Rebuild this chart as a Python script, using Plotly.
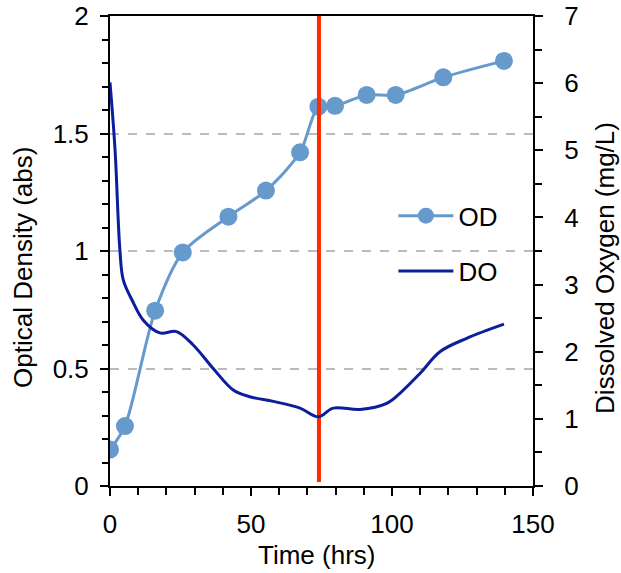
import plotly.graph_objects as go

# OD data (left axis)
od_time = [0, 5.3, 16, 25.8, 42, 55.3, 67.4, 73.9, 79.8, 91, 101.3, 118.2, 139.7]
od_values = [0.155, 0.255, 0.746, 0.994, 1.146, 1.257, 1.42, 1.614, 1.618, 1.664, 1.664, 1.739, 1.809]

# DO data (right axis)
do_time = [0, 1.8, 3.5, 4.7, 7.8, 11.8, 17.7, 23.6, 29.5, 36.6, 43.7, 49.6, 57.9, 67.4, 73.9,
           79.2, 88.7, 98.1, 102.8, 110, 117, 126.5, 139.7]
do_values = [6.01, 5.0, 3.52, 3.07, 2.77, 2.47, 2.28, 2.30, 2.10, 1.75, 1.43, 1.33, 1.26, 1.16, 1.03,
             1.16, 1.14, 1.23, 1.38, 1.68, 2.0, 2.2, 2.41]

marker_time = 74.1

FONT = "Liberation Sans, Arial, sans-serif"
OD_COLOR = "#6699CC"
DO_COLOR = "#0A1E9E"
FS = 26

fig = go.Figure()
fig.add_trace(go.Scatter(
    x=do_time, y=do_values, name="DO", yaxis="y2", mode="lines",
    line=dict(color=DO_COLOR, width=3, shape="spline", smoothing=1),
    legend="legend2",
))
fig.add_trace(go.Scatter(
    x=od_time, y=od_values, name="OD", mode="lines+markers",
    line=dict(color=OD_COLOR, width=3, shape="spline", smoothing=0.8),
    marker=dict(color=OD_COLOR, size=18),
    legend="legend",
))
fig.add_trace(go.Scatter(
    x=[marker_time, marker_time], y=[0.017, 2], mode="lines", showlegend=False,
    line=dict(color="#FF2A00", width=4), hoverinfo="skip",
))

axis_common = dict(
    showline=True, linecolor="black", linewidth=2,
    ticks="outside", ticklen=8, tickwidth=2, tickcolor="black",
    tickfont=dict(family=FONT, size=FS, color="black"),
    zeroline=False, automargin=False,
)

fig.update_layout(
    width=621, height=573,
    margin=dict(l=110, r=88, t=16, b=87),
    paper_bgcolor="white", plot_bgcolor="white",
    font=dict(family=FONT, size=FS, color="black"),
    xaxis=dict(
        **axis_common, range=[0, 150], tickvals=[0, 50, 100, 150], showgrid=False,
        mirror=True, ticklabelstandoff=6,
        minor=dict(ticks="outside", dtick=10, ticklen=7, tickwidth=2, tickcolor="black"),
    ),
    yaxis=dict(
        **axis_common, range=[0, 2], tickvals=[0, 0.5, 1, 1.5, 2],
        ticktext=["0", "0.5", "1", "1.5", "2"],
        showgrid=True, gridcolor="#BBBBBB", griddash="dash", gridwidth=1.5,
        ticklabelstandoff=6,
        minor=dict(ticks="outside", dtick=0.1, ticklen=6, tickwidth=2, tickcolor="black", showgrid=False),
    ),
    yaxis2=dict(
        **axis_common, range=[0, 7], tickvals=list(range(0, 8)), overlaying="y", side="right",
        showgrid=False, ticklabelstandoff=16,
        minor=dict(ticks="outside", dtick=0.5, ticklen=7, tickwidth=2, tickcolor="black"),
    ),
    legend=dict(x=0.67, y=0.625, xanchor="left", yanchor="top", bgcolor="rgba(0,0,0,0)",
                font=dict(family=FONT, size=FS), itemwidth=55),
    legend2=dict(x=0.67, y=0.507, xanchor="left", yanchor="top", bgcolor="rgba(0,0,0,0)",
                 font=dict(family=FONT, size=FS), itemwidth=55),
    showlegend=True,
    annotations=[
        dict(text="Time (hrs)", xref="paper", yref="paper", x=0.487, y=-0.147,
             xanchor="center", yanchor="middle", showarrow=False, font=dict(family=FONT, size=FS)),
        dict(text="Optical Density (abs)", xref="paper", yref="paper", x=0, y=0.464,
             xshift=-87, xanchor="center", yanchor="middle", textangle=-90, showarrow=False,
             font=dict(family=FONT, size=FS)),
        dict(text="Dissolved Oxygen (mg/L)", xref="paper", yref="paper", x=1, y=0.464,
             xshift=72, xanchor="center", yanchor="middle", textangle=-90, showarrow=False,
             font=dict(family=FONT, size=FS)),
    ],
)

fig.write_html("out.html", config={"displayModeBar": False},
               post_script="document.body.style.margin='0';")
